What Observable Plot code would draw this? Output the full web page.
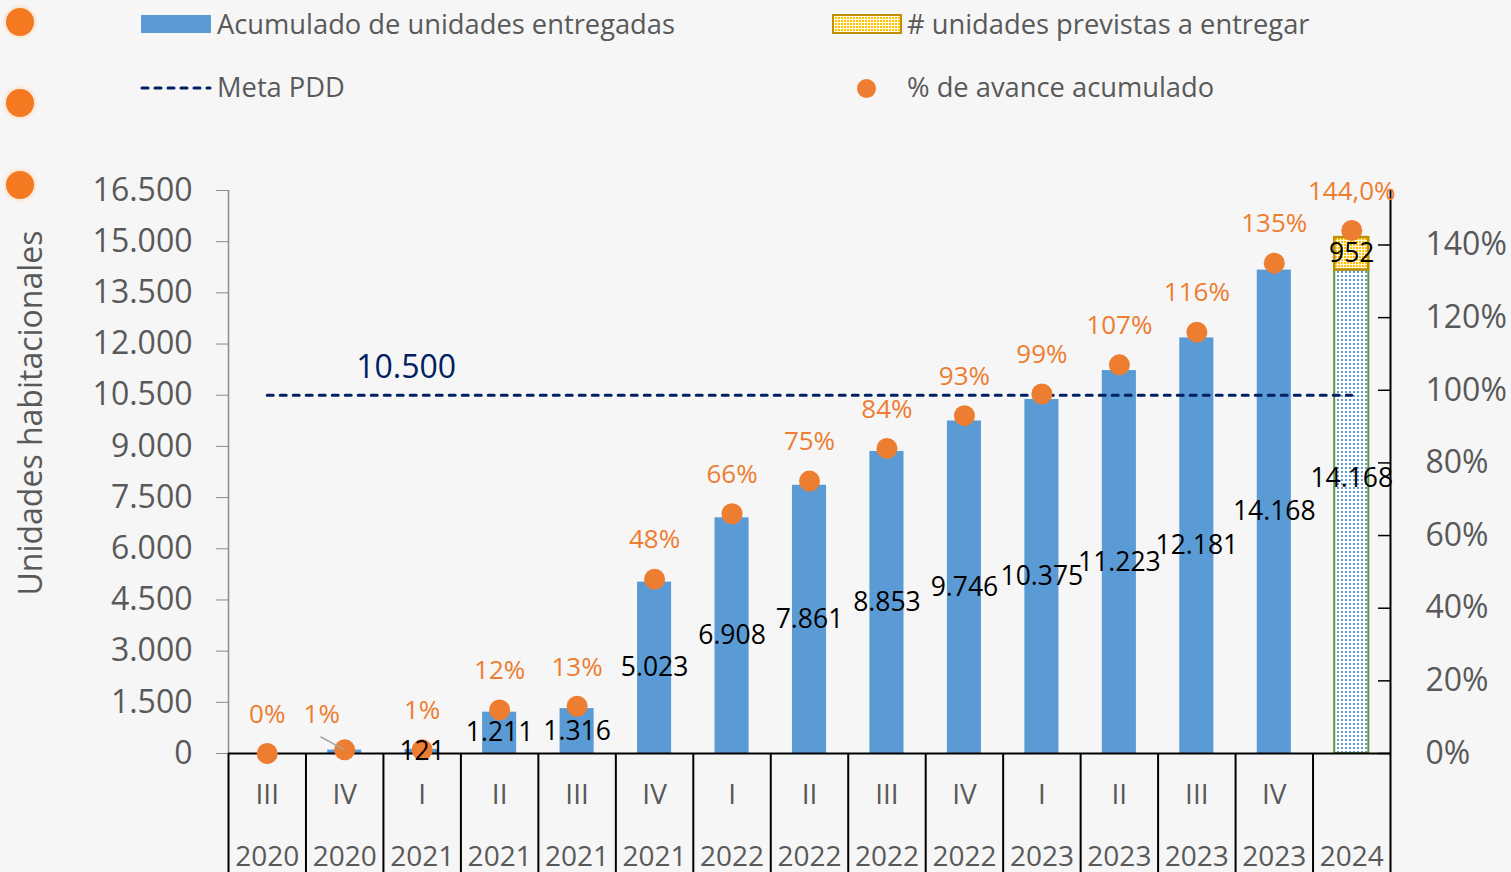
<!DOCTYPE html>
<html><head><meta charset="utf-8">
<script src="https://cdn.jsdelivr.net/npm/d3@7"></script>
<script src="https://cdn.jsdelivr.net/npm/@observablehq/plot@0.6"></script>
<style>
body{margin:0;background:#f6f6f6;font-family:"Open Sans",sans-serif;width:1511px;height:872px;overflow:hidden;position:relative}
#legend{position:relative;height:130px}
.txt{position:absolute;font-size:27.3px;line-height:34px;color:#595959;white-space:nowrap}
.deco{position:absolute;width:28px;height:28px;border-radius:50%;background:#F47920;box-shadow:0 0 3px 2px #fbe2cc}
#chart{position:relative}
#ytitle{position:absolute;left:30px;top:413px;transform:translate(-50%,-50%) rotate(-90deg);font-size:32px;line-height:36px;color:#595959;white-space:nowrap;z-index:2}
</style></head><body>
<svg width="0" height="0" style="position:absolute"><defs>
<pattern id="blueDots" width="4" height="4" patternUnits="userSpaceOnUse"><rect width="4" height="4" fill="#ffffff"/><rect x="1" y="1" width="2" height="2" fill="#5B9BD5"/></pattern>
<pattern id="yellowDots" width="3" height="3" patternUnits="userSpaceOnUse"><rect width="3" height="3" fill="#fffbea"/><rect width="2" height="2" fill="#FFC000"/></pattern>
</defs></svg>
<div class="deco" style="left:6px;top:8px"></div>
<div class="deco" style="left:6px;top:89px"></div>
<div class="deco" style="left:6px;top:171px"></div>
<div id="ytitle">Unidades habitacionales</div>
<div id="legend">
  <div style="position:absolute;left:141px;top:15px;width:70px;height:18px;background:#5B9BD5"></div>
  <div class="txt" style="left:217px;top:7px">Acumulado de unidades entregadas</div>
  <svg style="position:absolute;left:832px;top:14px" width="70" height="20"><rect x="1" y="1" width="68" height="18" fill="url(#yellowDots)" stroke="#BF9000" stroke-width="2"/></svg>
  <div class="txt" style="left:907px;top:7px"># unidades previstas a entregar</div>
  <svg style="position:absolute;left:139px;top:80px" width="74" height="16"><line x1="3" y1="8" x2="71" y2="8" stroke="#002060" stroke-width="3" stroke-dasharray="6,7" stroke-linecap="round"/></svg>
  <div class="txt" style="left:217px;top:70px">Meta PDD</div>
  <div style="position:absolute;left:857px;top:79px;width:19px;height:19px;border-radius:50%;background:#ED7D31"></div>
  <div class="txt" style="left:907px;top:70px">% de avance acumulado</div>
</div>
<div id="chart"></div>
<script>
// ---- data ----
const trimestres = ["III","IV","I","II","III","IV","I","II","III","IV","I","II","III","IV",""];
const anios = ["2020","2020","2021","2021","2021","2021","2022","2022","2022","2022","2023","2023","2023","2023","2024"];
const entregadas = [0, 100, 121, 1211, 1316, 5023, 6908, 7861, 8853, 9746, 10375, 11223, 12181, 14168, 14168];
const previstas = [0, 0, 0, 0, 0, 0, 0, 0, 0, 0, 0, 0, 0, 0, 952];
const avance = [0, 1, 1, 12, 13, 48, 66, 75, 84, 93, 99, 107, 116, 135, 144.0];
const meta = 10500;
const yTicks = [0, 1500, 3000, 4500, 6000, 7500, 9000, 10500, 12000, 13500, 15000, 16500];
const pctTicks = [0, 20, 40, 60, 80, 100, 120, 140];
const yMax = 16500, pctMax = 155;

// ---- layout ----
const W = 1511, H = 742, ML = 228, MR = 121, MT = 60, MB = 119;
const n = trimestres.length;
const step = (W - ML - MR) / n;
const pIn = 0.56, pOut = pIn / 2;
const bw = step * (1 - pIn);
const K = yMax / pctMax;

const locale = d3.formatLocale({decimal: ",", thousands: ".", grouping: [3], currency: ["", ""]});
const fmt = locale.format(",d");
const keys = trimestres.map((q, i) => q + " " + anios[i]);
const data = keys.map((k, i) => ({k, q: trimestres[i], a: anios[i], v: entregadas[i], f: previstas[i], p: avance[i], i}));
const last = n - 1;
const pctFmt = d => d.i === last ? d.p.toFixed(1).replace(".", ",") + "%" : d.p + "%";

const chart = Plot.plot({
  width: W, height: H,
  marginLeft: ML, marginRight: MR, marginTop: MT, marginBottom: MB,
  style: {fontFamily: "Open Sans, sans-serif", background: "transparent", overflow: "visible"},
  x: {domain: keys, paddingInner: pIn, paddingOuter: pOut, round: false, axis: null},
  y: {domain: [0, yMax], axis: null},
  marks: [
    // left axis
    Plot.axisY(yTicks, {anchor: "left", label: null, tickFormat: fmt, tickSize: 12, tickPadding: 24, fontSize: 32, stroke: "#8c8c8c", fill: "#595959"}),
    Plot.ruleX([keys[0]], {dx: -step / 2, stroke: "#8c8c8c", strokeWidth: 1.5}),
    // right axis
    Plot.axisY(pctTicks.map(p => p * K), {anchor: "right", label: null, tickFormat: v => Math.round(v / K) + "%", tickSize: 0, tickPadding: 35, fontSize: 32, fill: "#595959"}),
    Plot.tickY(pctTicks, {x: () => keys[last], y: p => p * K, insetLeft: bw - 12, dx: step * pOut, stroke: "black", strokeWidth: 1.5}),
    // bars
    Plot.barY(data.filter(d => d.f === 0), {x: "k", y: "v", fill: "#5B9BD5"}),
    Plot.barY(data.filter(d => d.f > 0), {x: "k", y1: 0, y2: "v", fill: "url(#blueDots)", stroke: "#5E9441", strokeWidth: 2}),
    Plot.barY(data.filter(d => d.f > 0), {x: "k", y1: "v", y2: d => d.v + d.f, fill: "url(#yellowDots)", stroke: "#BF9000", strokeWidth: 2.5}),
    // x-axis table
    Plot.ruleY([0], {stroke: "black", strokeWidth: 2}),
    Plot.ruleX(keys, {dx: -step / 2, insetTop: H - MT - MB, insetBottom: -MB, stroke: "black", strokeWidth: 2}),
    Plot.ruleX([keys[last]], {dx: step / 2, insetBottom: -MB, stroke: "black", strokeWidth: 2}),
    Plot.text(data, {x: "k", text: "q", frameAnchor: "bottom", dy: 50, fontSize: 28, fill: "#595959"}),
    Plot.text(data, {x: "k", text: "a", frameAnchor: "bottom", dy: 112, fontSize: 28, fill: "#595959"}),
    // meta
    Plot.lineY(data, {x: "k", y: () => meta, stroke: "#002060", strokeWidth: 3, strokeDasharray: "6,7", strokeLinecap: "round"}),
    Plot.text([meta], {x: () => keys[2], y: d => d, text: d => fmt(d), dx: -16, dy: -27, fontSize: 32, fill: "#002060"}),
    // avance
    Plot.dot(data, {x: "k", y: d => d.p * K, r: 10.5, fill: "#ED7D31"}),
    Plot.vector(data.filter(d => d.i === 1), {x: "k", y: d => d.p * K, length: 27, rotate: -61.6, anchor: "start", stroke: "#A6A6A6", strokeWidth: 1.5,
      shape: {draw(ctx, l) { ctx.moveTo(0, 0); ctx.lineTo(0, -l); }}}),
    Plot.text(data.filter(d => d.i !== 1), {x: "k", y: d => d.p * K, text: pctFmt, dy: -39, fontSize: 26, fill: "#ED7D31"}),
    Plot.text(data.filter(d => d.i === 1), {x: "k", y: d => d.p * K, text: pctFmt, dx: -23, dy: -35, fontSize: 26, fill: "#ED7D31"}),
    // value labels
    Plot.text(data.filter(d => d.i >= 2 && d.i < last), {x: "k", y: d => d.v / 2, text: d => fmt(d.v), fontSize: 26.5, fill: "black"}),
    Plot.text(data.filter(d => d.i === last), {x: "k", y: d => d.v / 2, text: d => fmt(d.v), dy: -33, fontSize: 26.5, fill: "black"}),
    Plot.text(data.filter(d => d.f > 0), {x: "k", y: d => d.v + d.f / 2, text: d => fmt(d.f), fontSize: 26.5, fill: "black"})
  ]
});
document.getElementById("chart").appendChild(chart);
</script>
</body></html>
